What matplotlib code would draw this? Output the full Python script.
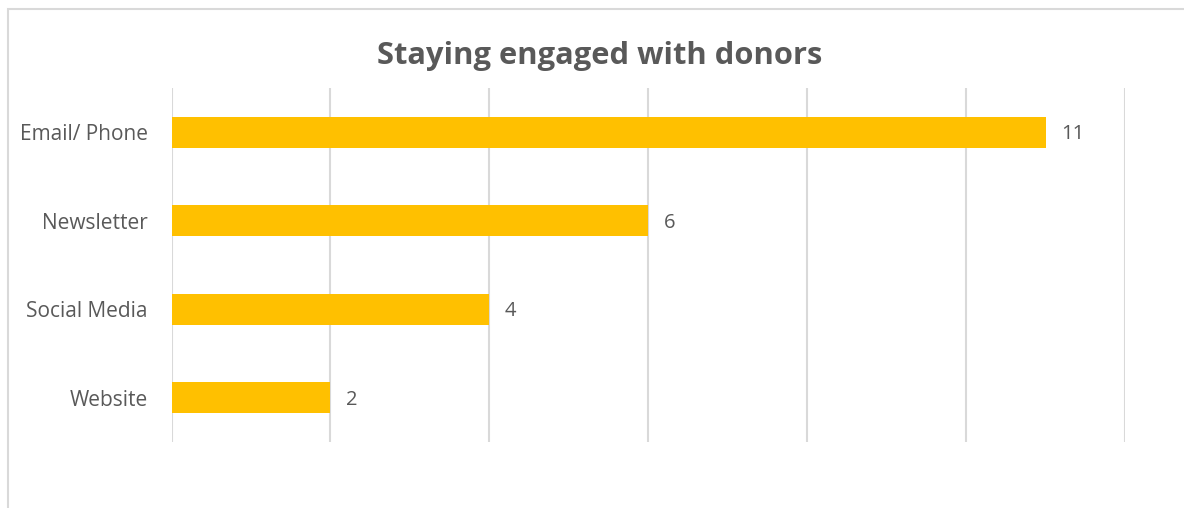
import matplotlib

matplotlib.use("Agg")

import matplotlib.pyplot as plt
from matplotlib.patches import Rectangle

channels = ["Email/ Phone", "Newsletter", "Social Media", "Website"]
counts = [11, 6, 4, 2]

BAR_COLOR = "#ffc000"
TEXT_COLOR = "#595959"
GRID_COLOR = "#d9d9d9"

W, H = 1184, 508

plt.rcParams["font.family"] = ["Open Sans", "DejaVu Sans"]

fig = plt.figure(figsize=(W / 100, H / 100), dpi=100)
ax = fig.add_axes([171.5 / W, (H - 442) / H, (1125 - 171.5) / W, (442 - 88) / H])

ypos = list(range(len(channels)))
ax.barh(ypos, counts, height=0.35, color=BAR_COLOR, zorder=3)
ax.set_ylim(len(channels) - 0.5, -0.5)
ax.set_xlim(0, 12)
ax.set_xticks(range(0, 13, 2))
ax.set_yticks(ypos)
ax.set_yticklabels(channels, fontsize=15, color=TEXT_COLOR)
ax.tick_params(axis="y", length=0, pad=17)
ax.tick_params(axis="x", length=0, labelbottom=False)
ax.grid(True, axis="x", color=GRID_COLOR, linewidth=1.5, zorder=0)
for s in ax.spines.values():
    s.set_visible(False)

# value labels just past the end of each bar
for y, c in zip(ypos, counts):
    ax.annotate(str(c), (c, y), xytext=(11, -1.5), textcoords="offset points",
                ha="left", va="center", fontsize=14.5, color=TEXT_COLOR)

fig.text(600 / W, 1 - 56 / H, "Staying engaged with donors", ha="center", va="center",
         fontsize=22.2, fontweight="bold", color=TEXT_COLOR)

# outer chart frame, running off the right and bottom edges
fig.add_artist(Rectangle((7.5 / W, -0.1), 1.2, 1 - 9.5 / H + 0.1, transform=fig.transFigure,
                         fill=False, edgecolor=GRID_COLOR, linewidth=1.5))

fig.savefig("out.png", dpi=100)
plt.close(fig)
